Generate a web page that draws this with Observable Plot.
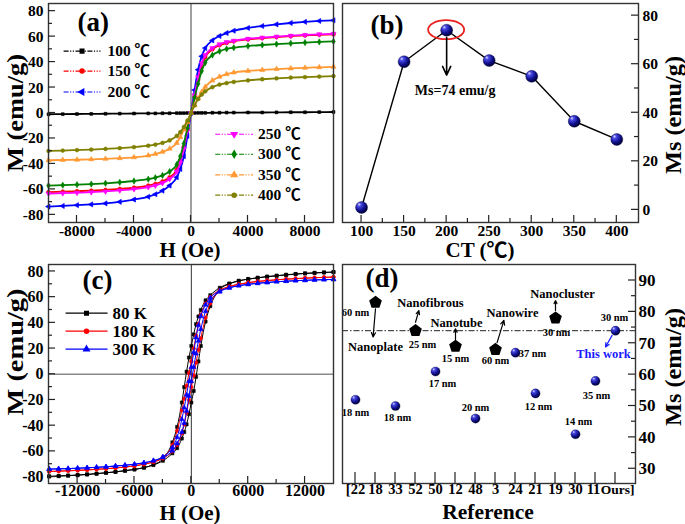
<!DOCTYPE html>
<html><head><meta charset="utf-8">
<script src="https://cdn.jsdelivr.net/npm/d3@7"></script>
<script src="https://cdn.jsdelivr.net/npm/@observablehq/plot@0.6"></script>
<style>
body{margin:0;background:#fff;}
#root{position:relative;width:685px;height:524px;overflow:hidden;background:#fff;}
</style></head>
<body><div id="root"></div>
<script>
// ---------------- DATA ----------------
// Panel (a): M-H curves at different calcination temperatures
const H_A = [-10000,-9000,-8000,-7000,-6000,-5000,-4000,-3000,-2500,-2000,-1500,-1000,-750,-500,-250,0,250,500,750,1000,1500,2000,2500,3000,4000,5000,6000,7000,8000,9000,10000];
const M_100 = [-1.0,-0.9,-0.8,-0.7,-0.6,-0.5,-0.4,-0.3,-0.3,-0.2,-0.2,-0.1,-0.1,-0.1,0,0,0,0.1,0.1,0.1,0.2,0.2,0.3,0.3,0.4,0.4,0.5,0.6,0.6,0.7,0.8];
const M_150 = [-62.1,-61.8,-61.4,-61.0,-60.4,-59.6,-58.6,-57.0,-55.7,-53.8,-50.5,-44.5,-37.5,-26.5,-13,0,13,26,37,44,50,53.2,55,56.3,57.8,58.8,59.6,60.3,60.9,61.4,61.8];
const M_200 = [-73.5,-73.0,-72.4,-71.8,-71.0,-69.8,-68.0,-65.8,-63.8,-61.0,-57.0,-50.5,-44.0,-34.0,-18.0,0,18,34,44.5,51,57,60.5,62.8,64.6,66.8,68.3,69.6,70.7,71.6,72.3,72.8];
const M_250 = [-63.3,-63.0,-62.6,-62.2,-61.6,-60.8,-59.8,-58.2,-57.0,-55.0,-51.8,-46.0,-39.0,-28.0,-14.0,0,14,28,39,45.5,51,54,55.7,56.8,58.3,59.2,60,60.7,61.3,61.8,62.2];
const M_300 = [-57.0,-56.7,-56.3,-55.8,-55.2,-54.4,-53.4,-52.0,-50.8,-49.0,-46.0,-40.5,-34.0,-24.0,-12.0,0,12,23,33,39.5,45.5,48.5,50.3,51.3,52.6,53.4,54.1,54.7,55.3,55.8,56.2];
const M_350 = [-37.1,-36.9,-36.7,-36.4,-36.0,-35.5,-34.8,-33.4,-32.2,-30.5,-28.0,-23.5,-19.0,-13.0,-7.0,0,6,11.5,16.5,20.5,25.5,28.5,30.5,31.8,33,33.8,34.5,35,35.5,35.9,36.3];
const M_400 = [-29.8,-29.5,-29.1,-28.7,-28.2,-27.6,-26.8,-25.7,-24.8,-23.5,-21.5,-18.0,-15.0,-11.0,-6.0,0,6,11,14.5,17,20.3,22.3,23.5,24.4,25.6,26.5,27.2,27.8,28.2,28.6,29];
const TEMPS_A = [100,150,200,250,300,350,400];
const M_A = [M_100,M_150,M_200,M_250,M_300,M_350,M_400];

// Panel (b): Ms vs calcination temperature
const CT = [100,150,200,250,300,350,400];
const MS_CT = [1,61,74,61.5,55,36.5,29];

// Panel (c): hysteresis loops at different measuring temperatures
const H_C = [-15000,-14000,-13000,-12000,-11000,-10000,-9000,-8000,-7000,-6000,-5000,-4000,-3000,-2000,-1500,-1000,-750,-500,-250,0,250,500,750,1000,1500,2000,3000,4000,5000,6000,7000,8000,9000,10000,11000,12000,13000,14000,15000];
const M80_down = [-79.5,-79.2,-78.8,-78.4,-77.9,-77.3,-76.6,-75.9,-75.0,-74.0,-72.6,-70.3,-65.8,-53,-41,-22,-10,2,13,22,31,39,45,50,57.5,61.5,67.3,70.6,72.7,74.1,75.1,76.0,76.7,77.4,78.0,78.5,78.9,79.2,79.5];
const M80_up   = [-79.5,-79.2,-78.9,-78.5,-78.0,-77.4,-76.7,-76.0,-75.1,-74.1,-72.7,-70.6,-67.3,-61.5,-57.5,-50,-45,-39,-31,-22,-13,-2,10,22,41,53,65.8,70.3,72.6,74.0,75.0,75.9,76.6,77.3,77.9,78.4,78.8,79.2,79.5];
const M180_down = [-75.6,-75.4,-75.1,-74.8,-74.4,-74.0,-73.5,-72.9,-72.2,-71.3,-70.0,-68.2,-64.5,-55,-44,-28,-19,-9,1,10,20,30,39,46,55,60,65.5,68.3,70.0,71.3,72.2,72.9,73.5,74.0,74.4,74.8,75.1,75.4,75.6];
const M180_up   = [-75.6,-75.4,-75.1,-74.8,-74.4,-74.0,-73.5,-72.9,-72.2,-71.3,-70.0,-68.3,-65.5,-60,-55,-46,-39,-30,-20,-10,-1,9,19,28,44,55,64.5,68.2,70.0,71.3,72.2,72.9,73.5,74.0,74.4,74.8,75.1,75.4,75.6];
const M300_down = [-73.8,-73.6,-73.4,-73.1,-72.8,-72.4,-72.0,-71.4,-70.8,-70.0,-68.9,-67.2,-64.2,-57,-49,-35,-26,-16,-5.5,5.5,17,28.5,38,45,54,59.5,64.8,67.3,68.9,70.0,70.8,71.4,72.0,72.4,72.8,73.1,73.4,73.6,73.8];
const M300_up   = [-73.8,-73.6,-73.4,-73.1,-72.8,-72.4,-72.0,-71.4,-70.8,-70.0,-68.9,-67.3,-64.8,-59.5,-54,-45,-38,-28.5,-17,-5.5,5.5,16,26,35,49,57,64.2,67.2,68.9,70.0,70.8,71.4,72.0,72.4,72.8,73.1,73.4,73.6,73.8];
const TEMPS_C = ["80 K","180 K","300 K"];
const LOOPS_C = [[M80_down,M80_up],[M180_down,M180_up],[M300_down,M300_up]];

// Panel (d): comparison with references
const REF_LABELS = ["[22","18","33","52","50","12","48","3","24","21","19","30","11","Ours]"];
const REF_MS = [52,83,50,74,61,69,46,68,67,54,78,41,58,74];
const REF_SHAPE = ["ball","pent","ball","pent","ball","pent","ball","pent","ball","ball","pent","ball","ball","ball"];
const REF_SIZE = ["18 nm","60 nm","18 nm","25 nm","17 nm","15 nm","20 nm","60 nm","37 nm","12 nm","30 nm","14 nm","35 nm","30 nm"];
const MORPH_NAMES = ["Nanoplate","Nanofibrous","Nanotube","Nanowire","Nanocluster","This work"];
const MORPH_REF = [1,3,5,7,10,13];
const THIS_WORK_MS = 74;

// ---------------- HELPERS ----------------
const FONT = '"Liberation Serif","Times New Roman","Noto Sans CJK SC",serif';
const root = document.getElementById("root");
function place(svg, left, top) {
  svg.style.position = "absolute";
  svg.style.left = left + "px";
  svg.style.top = top + "px";
  root.appendChild(svg);
}
const baseStyle = {background: "none", overflow: "visible", fontFamily: FONT, fontWeight: "bold", color: "#000", maxWidth: "none"};

function ticksMark({xMajor = [], xMinor = [], yMajor = [], yMinor = [], ySide = "left", major = 7, minor = 4, xMajorLen}) {
  return (index, scales, values, dim) => {
    const {width, height, marginLeft: ml, marginRight: mr, marginBottom: mb} = dim;
    const g = d3.create("svg:g").attr("stroke", "#222").attr("stroke-width", 1.2).attr("fill", "none");
    const yb = height - mb;
    for (const [vals, len] of [[xMajor, xMajorLen ?? major], [xMinor, minor]])
      for (const v of vals) { const x = scales.x(v); g.append("line").attr("x1", x).attr("x2", x).attr("y1", yb).attr("y2", yb - len); }
    const x0 = ySide === "left" ? ml : width - mr, s = ySide === "left" ? 1 : -1;
    for (const [vals, len] of [[yMajor, major], [yMinor, minor]])
      for (const v of vals) { const y = scales.y(v); g.append("line").attr("x1", x0).attr("x2", x0 + s * len).attr("y1", y).attr("y2", y); }
    return g.node();
  };
}
function titleMark(str, x, y, size, rotate, len) {
  return () => {
    const t = d3.create("svg:text").attr("x", x).attr("y", y).attr("text-anchor", "middle")
      .attr("dominant-baseline", "central").attr("font-size", size).attr("font-weight", "bold")
      .attr("fill", "#000").attr("font-family", FONT).text(str);
    if (rotate) t.attr("transform", `rotate(${rotate},${x},${y})`);
    if (len) t.attr("textLength", len).attr("lengthAdjust", "spacingAndGlyphs");
    return t.node();
  };
}
const range = (a, b, s) => d3.range(a, b + s / 2, s);
const fmt = d => String(d);

// ---------------- PANEL (a) ----------------
{
  const styleA = {
    100: {c: "#000000", s: "square", rot: 0},
    150: {c: "#ff0000", s: "circle", rot: 0},
    200: {c: "#0000ff", s: "triangle", rot: -90},
    250: {c: "#ff00ff", s: "triangle", rot: 180},
    300: {c: "#008000", s: "diamond", rot: 0},
    350: {c: "#ff9933", s: "triangle", rot: 0},
    400: {c: "#808000", s: "circle", rot: 0}
  };
  const dash = "5,1.5,1.2,1.5,1.2,1.5";
  const marks = [Plot.ruleX([0], {stroke: "#888", strokeWidth: 1.6})];
  TEMPS_A.forEach((t, k) => {
    const rows = H_A.map((h, i) => ({H: h, M: M_A[k][i]}));
    const st = styleA[t];
    marks.push(Plot.line(rows, {x: "H", y: "M", stroke: st.c, strokeWidth: 1.8, curve: "monotone-x"}));
    marks.push(Plot.dot(rows, {x: "H", y: "M", fill: st.c, stroke: st.c, strokeWidth: 0.6, symbol: st.s, rotate: st.rot, r: t === 100 ? 1.6 : 1.9}));
  });
  // legends
  const legUp = TEMPS_A.slice(0, 3).map((t, i) => ({t, y: [48.6, 32.9, 16.5][i]}));
  const legDn = TEMPS_A.slice(3).map((t, i) => ({t, y: [-16.7, -32.4, -48.6, -64.5][i]}));
  for (const [rows, xa, xb, xt] of [[legUp, -8940, -6350, -5860], [legDn, 1700, 4360, 4710]]) {
    for (const r of rows) {
      const st = styleA[r.t];
      marks.push(Plot.link([r], {x1: xa, x2: xb, y1: "y", y2: "y", stroke: st.c, strokeWidth: 1.1, strokeDasharray: dash}));
      marks.push(Plot.dot([r], {x: (xa + xb) / 2, y: "y", fill: st.c, stroke: st.c, symbol: st.s, rotate: st.rot, r: 2}));
      marks.push(Plot.text([r], {x: xt, y: "y", text: d => d.t + " \u2103", textAnchor: "start", fontSize: 15.5, fontWeight: "bold", fill: "#000"}));
    }
  }
  marks.push(
    Plot.frame({stroke: "#333", strokeWidth: 1.4}),
    ticksMark({xMajor: [-8000, -4000, 0, 4000, 8000], xMinor: [-6000, -2000, 2000, 6000], yMajor: range(-80, 80, 20), yMinor: range(-70, 70, 20)}),
    Plot.axisY({ticks: range(-80, 80, 20), tickFormat: fmt, tickSize: 0, tickPadding: 5, fontSize: 15.5, fontWeight: "bold", label: null}),
    Plot.axisX({ticks: [-8000, -4000, 0, 4000, 8000], tickFormat: fmt, tickSize: 0, tickPadding: 2, fontSize: 15.5, fontWeight: "bold", label: null}),
    Plot.text(["(a)"], {frameAnchor: "top-left", dx: 29, dy: 19, text: d => d, fontSize: 27, fontWeight: "bold", lineAnchor: "middle"}),
    titleMark("H (Oe)", 190, 250, 21),
    titleMark("M (emu/g)", 15, 113, 23, -90, 118)
  );
  const svg = Plot.plot({
    width: 342, height: 255, marginLeft: 48, marginRight: 9, marginTop: 3, marginBottom: 33,
    x: {domain: [-10000, 10000]}, y: {domain: [-86, 86]},
    style: baseStyle, marks
  });
  place(svg, 0, 0);
  // gradient for 3D balls
  const defs = d3.select(svg).append("defs");
  const gr = defs.append("radialGradient").attr("id", "ball").attr("cx", "35%").attr("cy", "30%").attr("r", "70%").attr("fx", "30%").attr("fy", "25%");
  gr.append("stop").attr("offset", "0%").attr("stop-color", "#e0e0ff");
  gr.append("stop").attr("offset", "22%").attr("stop-color", "#4a4ae6");
  gr.append("stop").attr("offset", "65%").attr("stop-color", "#10108e");
  gr.append("stop").attr("offset", "100%").attr("stop-color", "#00003a");
}

// ---------------- PANEL (b) ----------------
{
  const rows = CT.map((c, i) => ({CT: c, Ms: MS_CT[i]}));
  const peak = rows[d3.maxIndex(rows, d => d.Ms)];
  const ellipse = (index, scales) => d3.create("svg:ellipse")
    .attr("cx", scales.x(peak.CT)).attr("cy", scales.y(peak.Ms)).attr("rx", 18).attr("ry", 9.5)
    .attr("fill", "none").attr("stroke", "#e8201e").attr("stroke-width", 1.8).node();
  const svg = Plot.plot({
    width: 350, height: 255, marginLeft: 7, marginRight: 47, marginTop: 3, marginBottom: 33,
    x: {domain: [77.6, 425.5]}, y: {domain: [-5.2, 85]},
    style: baseStyle,
    marks: [
      Plot.line(rows, {x: "CT", y: "Ms", stroke: "#000", strokeWidth: 1.4}),
      Plot.dot(rows, {x: "CT", y: "Ms", r: 6, fill: "url(#ball)", stroke: "#00002a", strokeWidth: 0.4}),
      ellipse,
      Plot.arrow([peak], {x1: "CT", y1: d => d.Ms - 3, x2: "CT", y2: d => d.Ms - 18.5, stroke: "#000", strokeWidth: 1.6, headLength: 9, headAngle: 50}),
      Plot.text([peak], {x: d => d.CT + 10, y: d => d.Ms - 25, text: d => `Ms=${d.Ms} emu/g`, fontSize: 14, fontWeight: "bold"}),
      Plot.frame({stroke: "#333", strokeWidth: 1.4}),
      ticksMark({xMajor: range(100, 400, 50), xMinor: range(125, 375, 50), yMajor: range(0, 80, 20), yMinor: range(10, 70, 20), ySide: "right"}),
      Plot.axisY({anchor: "right", ticks: range(0, 80, 20), tickFormat: fmt, tickSize: 0, tickPadding: 4, fontSize: 15.5, fontWeight: "bold", label: null}),
      Plot.axisX({ticks: range(100, 400, 50), tickFormat: fmt, tickSize: 0, tickPadding: 2, fontSize: 15.5, fontWeight: "bold", label: null}),
      Plot.text(["(b)"], {frameAnchor: "top-left", dx: 28, dy: 22, text: d => d, fontSize: 27, fontWeight: "bold", lineAnchor: "middle"}),
      titleMark("CT (\u2103)", 145, 250, 21),
      titleMark("Ms (emu/g)", 338, 115, 23, -90, 118)
    ]
  });
  place(svg, 335, 0);
}

// ---------------- PANEL (c) ----------------
{
  const styleC = [
    {c: "#000000", s: "square", rot: 0},
    {c: "#ff0000", s: "circle", rot: 0},
    {c: "#0000ff", s: "triangle", rot: 0}
  ];
  const marks = [
    Plot.ruleY([0], {stroke: "#888", strokeWidth: 1.6}),
    Plot.ruleX([0], {stroke: "#333", strokeWidth: 1})
  ];
  LOOPS_C.forEach((branches, k) => {
    const st = styleC[k];
    branches.forEach((arr) => {
      const rows = H_C.map((h, i) => ({H: h, M: arr[i]}));
      marks.push(Plot.line(rows, {x: "H", y: "M", stroke: st.c, strokeWidth: 1, curve: "monotone-x"}));
      marks.push(Plot.dot(rows, {x: "H", y: "M", fill: st.c, stroke: st.c, strokeWidth: 0.5, symbol: st.s, rotate: st.rot, r: 1.8}));
    });
  });
  const leg = TEMPS_C.map((t, i) => ({t, y: [47.5, 33.5, 19.5][i], k: i}));
  for (const r of leg) {
    const st = styleC[r.k];
    marks.push(Plot.link([r], {x1: -13270, x2: -8840, y1: "y", y2: "y", stroke: st.c, strokeWidth: 1.2}));
    marks.push(Plot.dot([r], {x: -11060, y: "y", fill: st.c, stroke: st.c, symbol: st.s, r: 2}));
    marks.push(Plot.text([r], {x: -8310, y: "y", text: "t", textAnchor: "start", fontSize: 17, fontWeight: "bold", fill: "#000"}));
  }
  marks.push(
    Plot.frame({stroke: "#333", strokeWidth: 1.4}),
    ticksMark({xMajor: [-12000, -6000, 0, 6000, 12000], xMinor: [-9000, -3000, 3000, 9000], yMajor: range(-80, 80, 20), yMinor: range(-70, 70, 20)}),
    Plot.axisY({ticks: range(-80, 80, 20), tickFormat: fmt, tickSize: 0, tickPadding: 5, fontSize: 16, fontWeight: "bold", label: null}),
    Plot.axisX({ticks: [-12000, -6000, 0, 6000, 12000], tickFormat: fmt, tickSize: 0, tickPadding: 1, fontSize: 16, fontWeight: "bold", label: null}),
    Plot.text(["(c)"], {frameAnchor: "top-left", dx: 34, dy: 16, text: d => d, fontSize: 27, fontWeight: "bold", lineAnchor: "middle"}),
    titleMark("H (Oe)", 190, 257.5, 21),
    titleMark("M (emu/g)", 15, 97, 24, -90, 127)
  );
  const svg = Plot.plot({
    width: 342, height: 269, marginLeft: 48, marginRight: 9, marginTop: 9, marginBottom: 41,
    x: {domain: [-15070, 15000]}, y: {domain: [-85, 85.4]},
    style: baseStyle, marks
  });
  place(svg, 0, 255);
}

// ---------------- PANEL (d) ----------------
{
  const rows = REF_LABELS.map((l, i) => ({i, ref: l, Ms: REF_MS[i], shape: REF_SHAPE[i], size: REF_SIZE[i]}));
  const last = rows.length - 1;
  const pentagon = {
    draw(context, size) {
      const R = Math.sqrt(size / 2.3776);
      for (let k = 0; k < 5; k++) {
        const a = -Math.PI / 2 + k * 2 * Math.PI / 5;
        const x = R * Math.cos(a), y = R * Math.sin(a);
        k ? context.lineTo(x, y) : context.moveTo(x, y);
      }
      context.closePath();
    }
  };
  // label offsets (px) for the size labels
  const sizeDx = [0, -20, 2, 7, 7, 0, 0, 0, 17, 3, 1, 3, 1, -1];
  const sizeDy = [13, 10, 12, 14, 12, 12, -11, 11, 1, 13, 14, -13, 15, -13];
  const morphDx = [0, 15, 1, 17, 7, -12];
  const morphDy = [45, -28, -23, -37, -24, 23];
  const arrows = [
    {x1: 1.0, y1: 81, x2: 0.88, y2: 72},
    {x1: 3.0, y1: 76.7, x2: 3.17, y2: 80.4},
    {x1: 5.0, y1: 70.9, x2: 5.0, y2: 74.6},
    {x1: 7.08, y1: 70.2, x2: 7.42, y2: 77.3},
    {x1: 10.0, y1: 80.4, x2: 10.0, y2: 83.6}
  ];
  const blueArrow = [{x1: 12.83, y1: 72.5, x2: 12.5, y2: 68.8}];
  const marks = [
    Plot.ruleY([THIS_WORK_MS], {stroke: "#222", strokeWidth: 1, strokeDasharray: "6,2,1.5,2"}),
    Plot.dot(rows.filter(d => d.shape === "ball"), {x: "i", y: "Ms", r: 4.6, fill: "url(#ball)", stroke: "#00002a", strokeWidth: 0.3}),
    Plot.dot(rows.filter(d => d.shape === "pent"), {x: "i", y: "Ms", r: 5, symbol: pentagon, fill: "#000", stroke: "#000"}),
    Plot.arrow(arrows, {x1: "x1", y1: "y1", x2: "x2", y2: "y2", stroke: "#000", strokeWidth: 1.2, headLength: 6, headAngle: 50}),
    Plot.arrow(blueArrow, {x1: "x1", y1: "y1", x2: "x2", y2: "y2", stroke: "#1a1aff", strokeWidth: 1.2, headLength: 6, headAngle: 50})
  ];
  rows.forEach((r, k) => {
    marks.push(Plot.text([r], {x: "i", y: "Ms", text: "size", dx: sizeDx[k], dy: sizeDy[k], fontSize: 10.5, fontWeight: "bold", fill: "#000"}));
  });
  MORPH_NAMES.forEach((name, k) => {
    const r = rows[MORPH_REF[k]];
    marks.push(Plot.text([r], {x: "i", y: "Ms", text: () => name, dx: morphDx[k], dy: morphDy[k], fontSize: 12.5, fontWeight: "bold", fill: k === 5 ? "#1a1aff" : "#000"}));
  });
  marks.push(
    Plot.frame({stroke: "#333", strokeWidth: 1.4}),
    ticksMark({xMajor: d3.range(14), yMajor: range(30, 90, 10), yMinor: range(35, 85, 10), ySide: "right", xMajorLen: 11}),
    Plot.axisY({anchor: "right", ticks: range(30, 90, 10), tickFormat: fmt, tickSize: 0, tickPadding: 3, fontSize: 17, fontWeight: "bold", label: null}),
    // category labels along the bottom
    Plot.text(rows.slice(0, last - 1), {x: "i", frameAnchor: "bottom", dy: 6, text: "ref", fontSize: 14.5, fontWeight: "bold", lineAnchor: "middle"}),
    Plot.text([rows[last - 1]], {x: "i", frameAnchor: "bottom", dx: -2, dy: 6, text: "ref", fontSize: 14.5, fontWeight: "bold", lineAnchor: "middle"}),
    Plot.text([rows[last]], {x: "i", frameAnchor: "bottom", dx: 19, dy: 6, text: "ref", textAnchor: "end", fontSize: 13.5, fontWeight: "bold", lineAnchor: "middle"}),
    Plot.text(["(d)"], {frameAnchor: "top-left", dx: 23, dy: 14, text: d => d, fontSize: 27, fontWeight: "bold", lineAnchor: "middle"}),
    titleMark("Reference", 153, 257, 21.5),
    titleMark("Ms (emu/g)", 338, 112, 23, -90, 118)
  );
  const svg = Plot.plot({
    width: 350, height: 269, marginLeft: 7, marginRight: 50, marginTop: 9, marginBottom: 41,
    x: {domain: [-0.65, 14.0], axis: null}, y: {domain: [25.3, 95.1]},
    style: baseStyle, marks
  });
  place(svg, 335, 255);
}
</script>
</body></html>
